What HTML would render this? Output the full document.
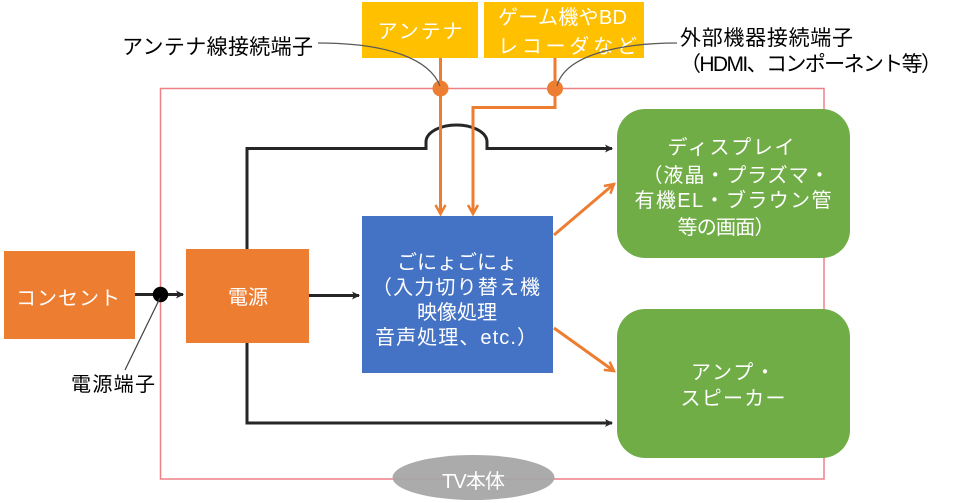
<!DOCTYPE html>
<html>
<head>
<meta charset="utf-8">
<style>
  html,body{margin:0;padding:0;background:#fff;}
  svg{display:block;}
  text{font-family:"Liberation Sans","Noto Sans CJK JP",sans-serif;}
</style>
</head>
<body>
<svg width="960" height="503" viewBox="0 0 960 503" xmlns="http://www.w3.org/2000/svg">
  <defs>
    <marker id="ab" markerWidth="10" markerHeight="10" refX="8" refY="5" orient="auto" markerUnits="userSpaceOnUse">
      <path d="M1,1 L9,5 L1,9 L3,5 Z" fill="#262626"/>
    </marker>
    <marker id="ao" markerWidth="12" markerHeight="12" refX="10" refY="6" orient="auto" markerUnits="userSpaceOnUse">
      <path d="M1,1 L10,6 L1,11" fill="none" stroke="#ed7d31" stroke-width="2.5"/>
    </marker>
  </defs>

  <!-- TV frame -->
  <rect x="160.5" y="88.5" width="663.5" height="390.5" fill="none" stroke="#ee8088" stroke-width="1.5"/>

  <!-- top yellow boxes -->
  <rect x="362" y="2" width="116" height="56" fill="#ffc000"/>
  <text x="420" y="38" font-size="20" fill="#fff" text-anchor="middle" textLength="85">アンテナ</text>
  <rect x="484" y="2" width="160" height="56" fill="#ffc000"/>
  <text x="498" y="24" font-size="20" fill="#fff" textLength="129">ゲーム機やBD</text>
  <text x="498" y="53" font-size="20" fill="#fff" textLength="139">レコーダなど</text>

  <!-- black power lines -->
  <path d="M247,249 V148.5 H426 V142 A30.5 17 0 0 1 487 142 V148.5 H612" fill="none" stroke="#262626" stroke-width="3" marker-end="url(#ab)"/>
  <path d="M247,343 V423 H612" fill="none" stroke="#262626" stroke-width="3" marker-end="url(#ab)"/>
  <line x1="135" y1="294.5" x2="183" y2="294.5" stroke="#262626" stroke-width="3" marker-end="url(#ab)"/>
  <line x1="309" y1="295.5" x2="359" y2="295.5" stroke="#262626" stroke-width="3" marker-end="url(#ab)"/>

  <!-- orange signal lines -->
  <line x1="440.5" y1="58" x2="440.5" y2="214" stroke="#ed7d31" stroke-width="3" marker-end="url(#ao)"/>
  <path d="M555,58 V107.5 H473 V214" fill="none" stroke="#ed7d31" stroke-width="3" marker-end="url(#ao)"/>
  <line x1="554" y1="235" x2="614" y2="184" stroke="#ed7d31" stroke-width="3" marker-end="url(#ao)"/>
  <line x1="554" y1="328" x2="614" y2="371" stroke="#ed7d31" stroke-width="3" marker-end="url(#ao)"/>

  <!-- connector dots -->
  <circle cx="440.5" cy="88.5" r="8" fill="#ed7d31"/>
  <circle cx="555" cy="88.5" r="8" fill="#ed7d31"/>
  <circle cx="160.5" cy="294.5" r="7.7" fill="#000"/>

  <!-- leader lines -->
  <path d="M318,43 C390,43 430,60 440,86" fill="none" stroke="#595959" stroke-width="1.2"/>
  <path d="M677,43 C620,43 565,55 557,86" fill="none" stroke="#595959" stroke-width="1.2"/>
  <line x1="160" y1="298" x2="125" y2="370" stroke="#404040" stroke-width="1.2"/>

  <!-- labels -->
  <text x="122" y="54" font-size="21" fill="#000" textLength="191">アンテナ線接続端子</text>
  <text x="680" y="45" font-size="21" fill="#000" textLength="173">外部機器接続端子</text>
  <text x="680" y="71" font-size="21" fill="#000" textLength="262">（HDMI、コンポーネント等）</text>
  <text x="71" y="391" font-size="20" fill="#000" textLength="84">電源端子</text>

  <!-- orange boxes -->
  <rect x="4" y="251" width="131" height="88" fill="#ed7d31"/>
  <text x="68" y="305" font-size="20" fill="#fff" text-anchor="middle" textLength="104">コンセント</text>
  <rect x="186" y="249" width="123" height="94" fill="#ed7d31"/>
  <text x="248" y="304" font-size="20" fill="#fff" text-anchor="middle">電源</text>

  <!-- blue box -->
  <rect x="362" y="216" width="191" height="157" fill="#4472c4"/>
  <g font-size="20" fill="#fff" text-anchor="middle">
    <text x="457" y="269">ごにょごにょ</text>
    <text x="456" y="294" textLength="168">（入力切り替え機</text>
    <text x="457" y="319">映像処理</text>
    <text x="456" y="344" textLength="162">音声処理、etc.）</text>
  </g>

  <!-- green boxes -->
  <rect x="617" y="109" width="233" height="149" rx="28" ry="28" fill="#70ad47"/>
  <g font-size="20" fill="#fff" text-anchor="middle">
    <text x="731" y="154" textLength="127">ディスプレイ</text>
    <text x="736" y="182" textLength="187">（液晶・プラズマ・</text>
    <text x="733" y="207" textLength="197">有機EL・ブラウン管</text>
    <text x="726" y="234" textLength="97">等の画面）</text>
  </g>
  <rect x="617" y="309" width="233" height="149" rx="28" ry="28" fill="#70ad47"/>
  <g font-size="20" fill="#fff" text-anchor="middle">
    <text x="733" y="379" textLength="84">アンプ・</text>
    <text x="733" y="405" textLength="105">スピーカー</text>
  </g>

  <!-- TV body ellipse -->
  <ellipse cx="473.5" cy="477.5" rx="81" ry="22.5" fill="#a6a6a6" fill-opacity="0.95"/>
  <text x="442" y="488" font-size="20" fill="#fff" textLength="63">TV本体</text>
</svg>
</body>
</html>
